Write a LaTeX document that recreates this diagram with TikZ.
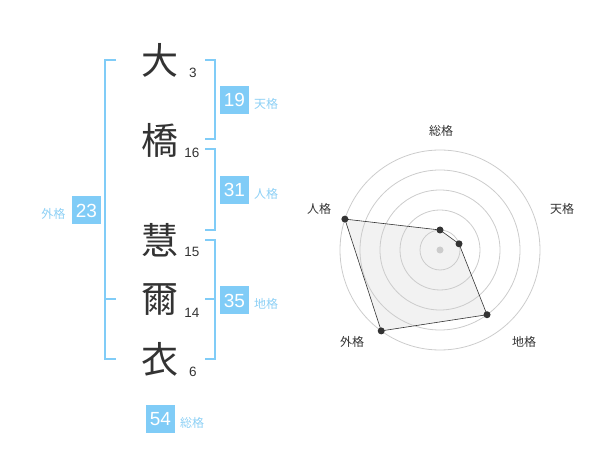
\documentclass[tikz,border=0pt]{standalone}
\usepackage{fontspec}
\setmainfont{Liberation Sans}
\newfontfamily\cjk{Noto Sans CJK JP}
\usetikzlibrary{positioning}

\definecolor{kakublue}{HTML}{80CCF7}
\definecolor{labelblue}{HTML}{8DD0F5}
\definecolor{inkgrey}{HTML}{333333}
\definecolor{ringgrey}{HTML}{CCCCCC}
\definecolor{areagrey}{HTML}{F2F2F2}

\begin{document}
\begin{tikzpicture}[x=1pt,y=-1pt,
  kanji/.style={inner sep=0pt,text=inkgrey,font=\cjk\fontsize{37}{37}\selectfont},
  strokes/.style={inner sep=0pt,text=inkgrey,font=\fontsize{13.5}{13.5}\selectfont},
  kakubox/.style={fill=kakublue,text=white,minimum width=29pt,minimum height=28pt,inner sep=0pt,font=\fontsize{19}{19}\selectfont},
  kakuname/.style={inner sep=0pt,text=labelblue,font=\cjk\fontsize{12}{12}\selectfont},
  bracket/.style={draw=kakublue,line width=2pt},
  axisname/.style={inner sep=0pt,text=inkgrey,font=\cjk\fontsize{12}{12}\selectfont},
  ring/.style={draw=ringgrey,line width=0.8pt},
  dot/.style={circle,fill=inkgrey,inner sep=0pt,minimum size=7pt}]
\useasboundingbox (0,0) rectangle (600,470);

% name
\node[kanji] (c1) at (160,60) {大};
\node[kanji] (c2) at (160,140) {橋};
\node[kanji] (c3) at (160,240) {慧};
\node[kanji] (c4) at (160,300) {爾};
\node[kanji] (c5) at (160,359) {衣};
\node[strokes] (n1) at (193,73) {3};
\node[strokes] (n2) at (192,153) {16};
\node[strokes] (n3) at (192,252) {15};
\node[strokes] (n4) at (192,313) {14};
\node[strokes] (n5) at (193,372) {6};

% brackets
\draw[bracket] (205,60) -- (215,60) -- (215,139) -- (205,139);
\draw[bracket] (205,149) -- (215,149) -- (215,230) -- (205,230);
\draw[bracket] (205,240) -- (215,240) -- (215,359) -- (205,359);
\draw[bracket] (205,299) -- (215,299);
\draw[bracket] (116,60) -- (105,60) -- (105,359) -- (116,359);
\draw[bracket] (105,299) -- (116,299);

% kaku
\node[kakubox] (ten) at (234.5,100) {19};
\node[kakuname] (tenL) at (266,104) {天格};
\node[kakubox] (jin) at (234.5,190) {31};
\node[kakuname] (jinL) at (266,194) {人格};
\node[kakubox] (chi) at (234.5,300.5) {35};
\node[kakuname] (chiL) at (266,304) {地格};
\node[kakubox] (gai) at (86.5,210.5) {23};
\node[kakuname] (gaiL) at (53.5,213.5) {外格};
\node[kakubox] (sou) at (160.5,419) {54};
\node[kakuname] (souL) at (192,422.5) {総格};

% radar
\begin{scope}[shift={(440,250)}]
\coordinate (rs) at (-90:20);
\coordinate (rt) at (-18:20);
\coordinate (rc) at (54:80);
\coordinate (rg) at (126:100);
\coordinate (rj) at (198:100);
\fill[areagrey] (rs) -- (rt) -- (rc) -- (rg) -- (rj) -- cycle;
\foreach \r in {20,40,...,100}
  \draw[ring] (0,0) circle[radius=\r pt];
\draw[inkgrey,line width=0.6pt] (rs) -- (rt) -- (rc) -- (rg) -- (rj) -- cycle;
\node[circle,fill=ringgrey,inner sep=0pt,minimum size=7pt] (ctr) at (0,0) {};
\foreach \p in {rs,rt,rc,rg,rj}
  \node[dot] at (\p) {};
\end{scope}
\node[axisname] (aSou) at (441,130.5) {総格};
\node[axisname] (aTen) at (562,208.5) {天格};
\node[axisname] (aChi) at (524,342) {地格};
\node[axisname] (aGai) at (352,342) {外格};
\node[axisname] (aJin) at (319,208.5) {人格};
\end{tikzpicture}
\end{document}
